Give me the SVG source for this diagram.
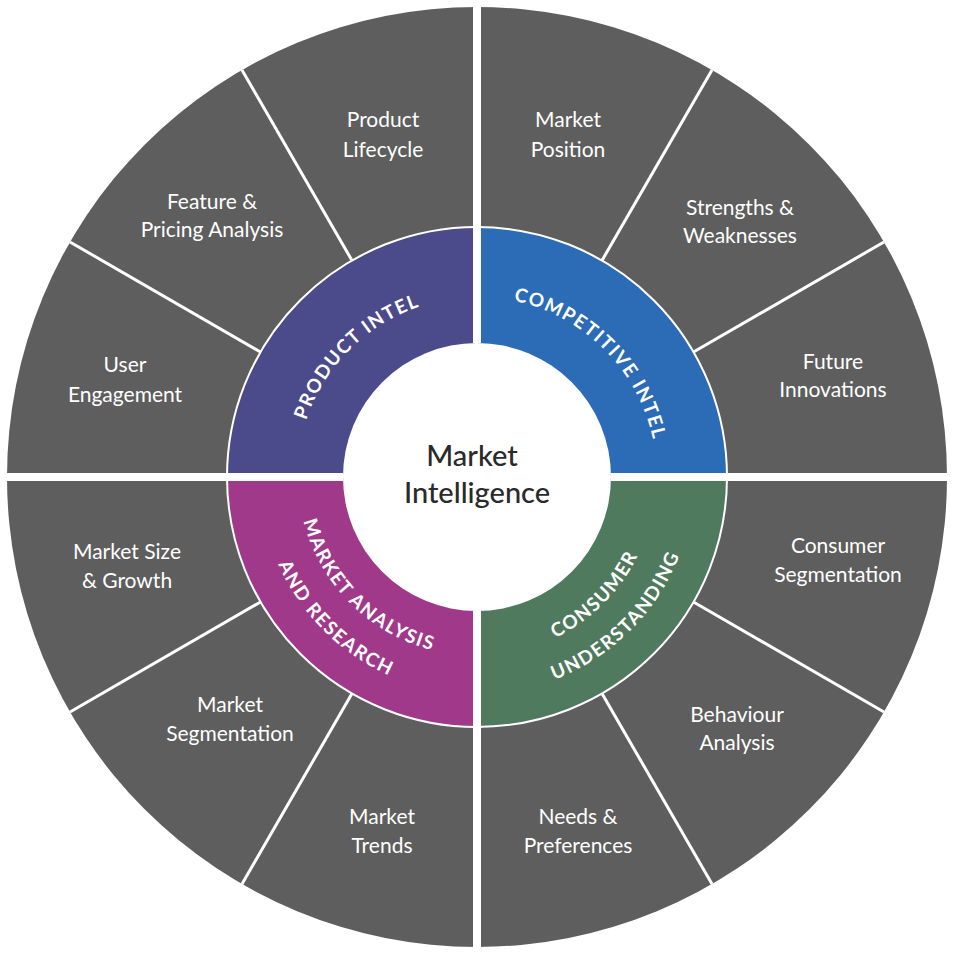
<svg xmlns="http://www.w3.org/2000/svg" width="954" height="954" viewBox="0 0 954 954">
<style>
.lbl{font-family:"Lato","Noto Sans",sans-serif;font-size:21px;fill:#fff;text-anchor:middle}
.ring{font-family:"Lato","Noto Sans",sans-serif;font-size:19px;font-weight:bold;fill:#fff;letter-spacing:1.5px}
.div{stroke:#fff;stroke-width:3}
.gap{stroke:#fff;stroke-width:8}
</style>
<defs>
<path id="pTL" d="M297,477 A180,180 0 0 1 477,297"/>
<path id="pTR" d="M477,297 A180,180 0 0 1 657,477"/>
<path id="pBL1" d="M298,477 A179,179 0 0 0 477,656"/>
<path id="pBL2" d="M260,477 A217,217 0 0 0 477,694"/>
<path id="pBR1" d="M477,656 A179,179 0 0 0 656,477"/>
<path id="pBR2" d="M477,694 A217,217 0 0 0 694,477"/>
</defs>
<rect width="954" height="954" fill="#fff"/>
<g id="outer">
<circle cx="477" cy="477" r="470" fill="#5e5e5e"/>
</g>
<g id="quadrants">
<path d="M477,477 L227,477 A250,250 0 0 1 477,227 Z" fill="#4b4a8b"/>
<path d="M477,477 L477,227 A250,250 0 0 1 727,477 Z" fill="#2c6bb6"/>
<path d="M477,477 L727,477 A250,250 0 0 1 477,727 Z" fill="#4f7a5e"/>
<path d="M477,477 L477,727 A250,250 0 0 1 227,477 Z" fill="#a0398a"/>
<circle cx="477" cy="477" r="250" fill="none" stroke="#fff" stroke-width="2"/>
<circle cx="477" cy="477" r="134" fill="#fff"/>
</g>
<g id="connectors">
<line class="div" x1="693.5" y1="602" x2="884" y2="712"/>
<line class="div" x1="602" y1="693.5" x2="712" y2="884"/>
<line class="div" x1="352" y1="693.5" x2="242" y2="884"/>
<line class="div" x1="260.5" y1="602" x2="70" y2="712"/>
<line class="div" x1="260.5" y1="352" x2="70" y2="242"/>
<line class="div" x1="352" y1="260.5" x2="242" y2="70"/>
<line class="div" x1="602" y1="260.5" x2="712" y2="70"/>
<line class="div" x1="693.5" y1="352" x2="884" y2="242"/>
<line class="gap" x1="477" y1="0" x2="477" y2="343"/>
<line class="gap" x1="477" y1="611" x2="477" y2="954"/>
<line class="gap" x1="0" y1="477" x2="343" y2="477"/>
<line class="gap" x1="611" y1="477" x2="954" y2="477"/>
</g>
<g id="ringText">
<text class="ring"><textPath href="#pTL" startOffset="50%" text-anchor="middle">PRODUCT INTEL</textPath></text>
<text class="ring"><textPath href="#pTR" startOffset="50%" text-anchor="middle">COMPETITIVE INTEL</textPath></text>
<text class="ring"><textPath href="#pBL1" startOffset="50%" text-anchor="middle">MARKET ANALYSIS</textPath></text>
<text class="ring"><textPath href="#pBL2" startOffset="50%" text-anchor="middle">AND RESEARCH</textPath></text>
<text class="ring"><textPath href="#pBR1" startOffset="50%" text-anchor="middle">CONSUMER</textPath></text>
<text class="ring"><textPath href="#pBR2" startOffset="50%" text-anchor="middle">UNDERSTANDING</textPath></text>
</g>
<g id="center">
<text x="472" y="466" font-family="Lato,'Noto Sans',sans-serif" font-size="29" font-weight="500" fill="#2a2a2a" text-anchor="middle">Market</text>
<text x="477" y="503" font-family="Lato,'Noto Sans',sans-serif" font-size="29" font-weight="500" fill="#2a2a2a" text-anchor="middle">Intelligence</text>
</g>
<g id="labels">
<text class="lbl" x="383" y="127">Product</text><text class="lbl" x="383" y="157">Lifecycle</text>
<text class="lbl" x="212" y="209">Feature &amp;</text><text class="lbl" x="212" y="237">Pricing Analysis</text>
<text class="lbl" x="125" y="372">User</text><text class="lbl" x="125" y="402">Engagement</text>
<text class="lbl" x="568" y="127">Market</text><text class="lbl" x="568" y="157">Position</text>
<text class="lbl" x="740" y="215">Strengths &amp;</text><text class="lbl" x="740" y="243">Weaknesses</text>
<text class="lbl" x="833" y="369">Future</text><text class="lbl" x="833" y="397">Innovations</text>
<text class="lbl" x="838" y="553">Consumer</text><text class="lbl" x="838" y="582">Segmentation</text>
<text class="lbl" x="737" y="722">Behaviour</text><text class="lbl" x="737" y="750">Analysis</text>
<text class="lbl" x="578" y="824">Needs &amp;</text><text class="lbl" x="578" y="853">Preferences</text>
<text class="lbl" x="382" y="824">Market</text><text class="lbl" x="382" y="853">Trends</text>
<text class="lbl" x="230" y="712">Market</text><text class="lbl" x="230" y="741">Segmentation</text>
<text class="lbl" x="127" y="559">Market Size</text><text class="lbl" x="127" y="588">&amp; Growth</text>
</g>
</svg>
